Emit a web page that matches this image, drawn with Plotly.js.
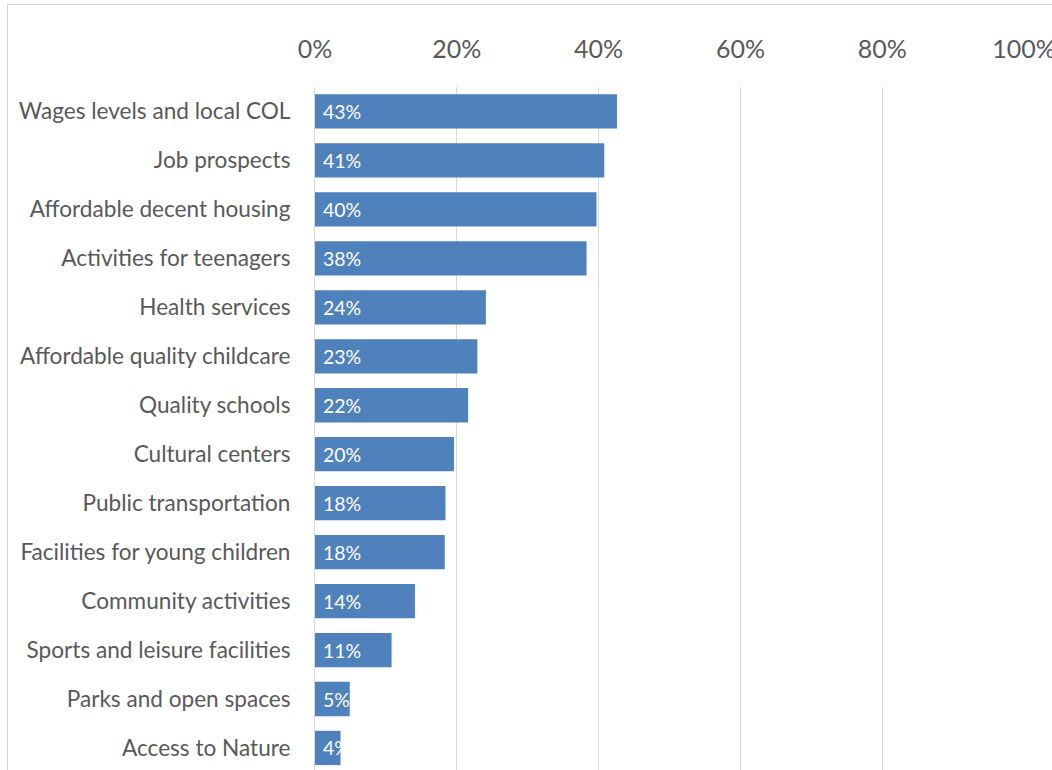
<!DOCTYPE html>
<html>
<head>
<meta charset="utf-8">
<script src="https://cdn.plot.ly/plotly-3.0.1.min.js"></script>
<style>
  html, body { margin: 0; padding: 0; background: #ffffff; }
  #wrap { position: relative; width: 1052px; height: 770px; overflow: hidden; }
  #chart { position: absolute; left: 0; top: 0; width: 1052px; height: 770px; }
  #frame { position: absolute; left: 7px; top: 4px; width: 1100px; height: 800px;
           border-left: 1px solid #d4d4d4; border-top: 1px solid #d4d4d4; pointer-events: none; }
</style>
</head>
<body>
<div id="wrap">
  <div id="chart"></div>
  <div id="frame"></div>
</div>
<script>
// Data (percent of respondents)
const categories = [
  "Wages levels and local COL",
  "Job prospects",
  "Affordable decent housing",
  "Activities for teenagers",
  "Health services",
  "Affordable quality childcare",
  "Quality schools",
  "Cultural centers",
  "Public transportation",
  "Facilities for young children",
  "Community activities",
  "Sports and leisure facilities",
  "Parks and open spaces",
  "Access to Nature"
];
const values = [42.6, 40.8, 39.7, 38.3, 24.1, 22.9, 21.6, 19.6, 18.4, 18.3, 14.1, 10.8, 4.9, 3.6];
const valueLabels = ["43%", "41%", "40%", "38%", "24%", "23%", "22%", "20%", "18%", "18%", "14%", "11%", "5%", "4%"];
const tickValues = [0, 20, 40, 60, 80, 100];
const tickLabels = ["0%", "20%", "40%", "60%", "80%", "100%"];

const FONT = "Lato, 'Open Sans', sans-serif";

const trace = {
  type: "bar",
  orientation: "h",
  x: values,
  y: categories,
  text: valueLabels.map(t => "\u00a0" + t),
  textposition: "inside",
  insidetextanchor: "start",
  constraintext: "none",
  textangle: 0,
  textfont: { family: FONT, size: 19.5, color: "#ffffff" },
  marker: { color: "#4F81BD", line: { width: 0 } },
  hoverinfo: "skip",
  cliponaxis: true
};

const layout = {
  width: 1052,
  height: 770,
  margin: { l: 315, r: 28, t: 87, b: 0, pad: 0 },
  paper_bgcolor: "rgba(0,0,0,0)",
  plot_bgcolor: "#ffffff",
  showlegend: false,
  bargap: 0.3,
  font: { family: FONT, color: "#595959" },
  xaxis: {
    side: "top",
    range: [0, 100],
    tickmode: "array",
    tickvals: tickValues,
    ticktext: tickLabels,
    tickfont: { family: FONT, size: 25, color: "#595959" },
    ticklabeloverflow: "allow",
    ticks: "outside",
    ticklen: 18,
    tickcolor: "rgba(0,0,0,0)",
    showgrid: true,
    gridcolor: "#d9d9d9",
    gridwidth: 1,
    zeroline: false,
    showline: false,
    fixedrange: true
  },
  yaxis: {
    type: "category",
    categoryorder: "array",
    categoryarray: categories,
    range: [13.45, -0.5],
    tickfont: { family: FONT, size: 22.6, color: "#595959" },
    ticks: "outside",
    ticklen: 19,
    tickcolor: "rgba(0,0,0,0)",
    showgrid: false,
    zeroline: false,
    showline: true,
    linecolor: "#d9d9d9",
    linewidth: 1,
    fixedrange: true
  }
};

Plotly.newPlot("chart", [trace], layout, { displayModeBar: false, staticPlot: true });
</script>
</body>
</html>
